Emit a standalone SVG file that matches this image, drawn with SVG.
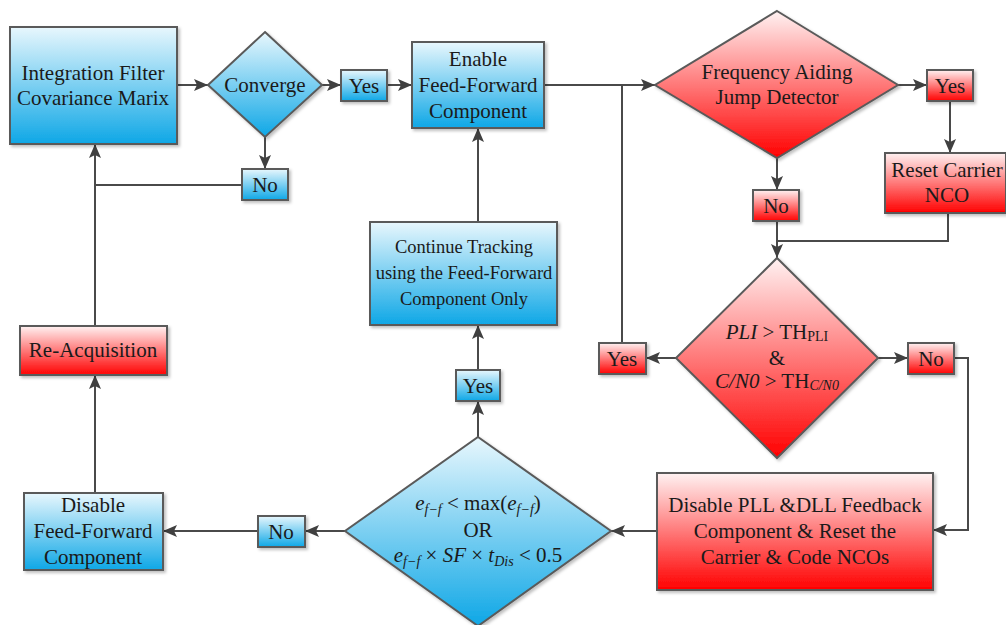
<svg xmlns="http://www.w3.org/2000/svg" width="1006" height="625" viewBox="0 0 1006 625">
<defs>
<linearGradient id="gb" x1="0" y1="0" x2="0" y2="1"><stop offset="0" stop-color="#e8f7fd"/><stop offset="1" stop-color="#0ea7e6"/></linearGradient>
<linearGradient id="gr" x1="0" y1="0" x2="0" y2="1"><stop offset="0" stop-color="#fff2f2"/><stop offset="1" stop-color="#ff0000"/></linearGradient>
<filter id="sh" x="-10%" y="-10%" width="130%" height="130%"><feDropShadow dx="2" dy="2" stdDeviation="1.5" flood-color="#000" flood-opacity="0.25"/></filter>
<marker id="ah" viewBox="0 0 14 12" refX="14" refY="6" markerWidth="14" markerHeight="12" markerUnits="userSpaceOnUse" orient="auto"><path d="M0,0 L14,6 L0,12 L3,6 Z" fill="#404040"/></marker>
<style>
.b{fill:url(#gb);stroke:#5a5a5a;stroke-width:2;filter:url(#sh)}
.r{fill:url(#gr);stroke:#5a5a5a;stroke-width:2;filter:url(#sh)}
text{font-size:21px;fill:#1a1a1a;text-anchor:middle}
.m{font-size:21px}
.s{font-size:18.5px}
.i{font-style:italic}
.c{fill:none;stroke:#4a4a4a;stroke-width:2}
.a{marker-end:url(#ah)}
</style>
</defs>
<g font-family="'Liberation Serif', 'Times New Roman', serif">
<g id="connectors">
<path class="c a" d="M177,85 H208"/>
<path class="c a" d="M322,85 H341"/>
<path class="c a" d="M387,85 H412"/>
<path class="c a" d="M265,137 V169"/>
<path class="c" d="M242,185 H95"/>
<path class="c a" d="M95,326 V144"/>
<path class="c a" d="M95,493 V375"/>
<path class="c a" d="M258,531 H163"/>
<path class="c a" d="M345,531 H305"/>
<path class="c a" d="M478,437 V401"/>
<path class="c a" d="M478,370 V325"/>
<path class="c a" d="M478,222 V128"/>
<path class="c a" d="M544,85 H655"/>
<path class="c" d="M622,343 V85"/>
<path class="c a" d="M898,85 H927"/>
<path class="c a" d="M950,101 V153"/>
<path class="c a" d="M777,158 V190"/>
<path class="c a" d="M777,221 V258"/>
<path class="c" d="M948,213 V241 H777"/>
<path class="c a" d="M676,358 H646"/>
<path class="c a" d="M878,358 H908"/>
<path class="c a" d="M954,358 H968 V530 H933"/>
<path class="c a" d="M657,531 H611"/>
</g>
<g id="n-integration"><rect class="b" x="10" y="27" width="167" height="117"/><text x="93" y="80">Integration Filter</text><text x="93" y="105">Covariance Marix</text></g>
<g id="n-converge"><polygon class="b" points="265,32 322,85 265,137 208,85"/><text x="265" y="92">Converge</text></g>
<g id="n-yes1"><rect class="b" x="341" y="70" width="46" height="31"/><text x="364" y="93">Yes</text></g>
<g id="n-no1"><rect class="b" x="242" y="169" width="46" height="31"/><text x="265" y="192">No</text></g>
<g id="n-enable"><rect class="b" x="412" y="42" width="132" height="86"/><text x="478" y="66">Enable</text><text x="478" y="92">Feed-Forward</text><text x="478" y="118">Component</text></g>
<g id="n-freq"><polygon class="r" points="777,11 898,85 777,158 655,85"/><text x="777" y="79">Frequency Aiding</text><text x="777" y="104">Jump Detector</text></g>
<g id="n-yes2"><rect class="r" x="927" y="70" width="46" height="31"/><text x="950" y="93">Yes</text></g>
<g id="n-reset"><rect class="r" x="885" y="153" width="121" height="60"/><text x="947" y="177">Reset Carrier</text><text x="947" y="202">NCO</text></g>
<g id="n-no2"><rect class="r" x="753" y="190" width="46" height="31"/><text x="776" y="213">No</text></g>
<g id="n-pli"><polygon class="r" points="777,258 878,358 777,458 676,358"/>
<text x="777" y="339"><tspan class="i">PLI</tspan> &gt; TH<tspan font-size="14" dy="2">PLI</tspan></text>
<text x="777" y="365">&amp;</text>
<text x="777" y="388"><tspan class="i">C/N0</tspan> &gt; TH<tspan class="i" font-size="14" dy="2">C/N0</tspan></text></g>
<g id="n-yes3"><rect class="r" x="599" y="343" width="47" height="31"/><text x="622" y="366">Yes</text></g>
<g id="n-no3"><rect class="r" x="908" y="343" width="46" height="31"/><text x="931" y="366">No</text></g>
<g id="n-continue"><rect class="b" x="370" y="222" width="187" height="103"/><text class="s" x="464" y="253">Continue Tracking</text><text class="s" x="464" y="279">using the Feed-Forward</text><text class="s" x="464" y="305">Component Only</text></g>
<g id="n-yes4"><rect class="b" x="456" y="370" width="44" height="31"/><text x="478" y="393">Yes</text></g>
<g id="n-reacq"><rect class="r" x="20" y="326" width="147" height="49"/><text x="93" y="357">Re-Acquisition</text></g>
<g id="n-disableff"><rect class="b" x="24" y="493" width="139" height="77"/><text x="93" y="512">Disable</text><text x="93" y="538">Feed-Forward</text><text x="93" y="564">Component</text></g>
<g id="n-no4"><rect class="b" x="258" y="516" width="47" height="31"/><text x="281" y="539">No</text></g>
<g id="n-cond"><polygon class="b" points="478,437 611,531 478,626 345,531"/>
<text class="m" x="478" y="510"><tspan class="i">e</tspan><tspan class="i" font-size="14" dy="4">f−f</tspan><tspan dy="-4"> &lt; max(</tspan><tspan class="i">e</tspan><tspan class="i" font-size="14" dy="4">f−f</tspan><tspan dy="-4">)</tspan></text>
<text class="m" x="478" y="537">OR</text>
<text class="m" x="478" y="562"><tspan class="i">e</tspan><tspan class="i" font-size="14" dy="4">f−f</tspan><tspan dy="-4"> × </tspan><tspan class="i">SF</tspan><tspan> × </tspan><tspan class="i">t</tspan><tspan class="i" font-size="14" dy="4">Dis</tspan><tspan dy="-4"> &lt; 0.5</tspan></text></g>
<g id="n-disablepll"><rect class="r" x="657" y="473" width="276" height="117"/><text x="795" y="512">Disable PLL &amp;DLL Feedback</text><text x="795" y="538">Component &amp; Reset the</text><text x="795" y="564">Carrier &amp; Code NCOs</text></g>
</g>
</svg>
